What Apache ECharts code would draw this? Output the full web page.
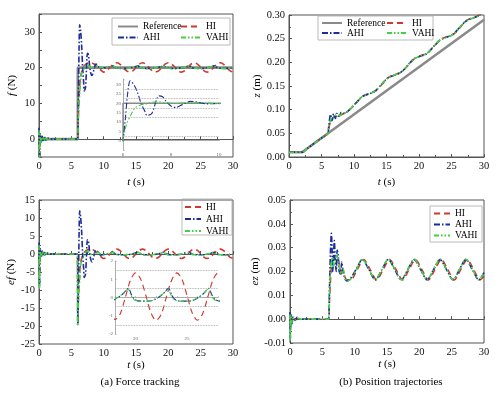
<!DOCTYPE html>
<html lang="en">
<head>
<meta charset="UTF-8">
<title>Force tracking / position trajectories</title>
<script src="https://cdn.jsdelivr.net/npm/echarts@6/dist/echarts.min.js"></script>
<style>
  * { margin: 0; padding: 0; }
  body { background: #fff; }
  #chart { width: 500px; height: 399px; }
</style>
</head>
<body>
<div id="chart"></div>
<script>
// ---- data: [t (s), value] ----
const fRef = [[0, 0], [6, 0], [6, 20], [30, 20]];
const zRef = [[0, 0.01], [2, 0.01], [30, 0.29]];

// force f (N)
const fHI = [[0,1.5],[0.08,-6],[0.2,1],[0.4,-0.5],[0.6,0.4],[0.9,-0.2],[1.2,0.2],[1.6,0],[5.95,0],[6.05,5],[6.2,12],[6.4,17],[6.7,19.5],[7,20.5],[7.5,21.2],[8,21.4],[8.5,21],[9,20.3],[9.5,19.4],[10,18.75],[10.5,19.15],[11,20.05],[11.5,20.95],[12,21.35],[12.5,21],[13,20.1],[13.5,19.15],[14,18.75],[14.5,19.1],[15,20.05],[15.5,20.95],[16,21.35],[16.5,21],[17,20.1],[17.5,19.15],[18,18.8],[18.5,19.1],[19,20],[19.5,20.95],[20,21.35],[20.5,21],[21,20.1],[21.5,19.15],[22,18.75],[22.5,19.1],[23,20.05],[23.5,20.95],[24,21.35],[24.5,21],[25,20.1],[25.5,19.15],[26,18.75],[26.5,19.1],[27,20],[27.5,20.95],[28,21.35],[28.5,21],[29,20.1],[29.5,19.15],[30,18.8]];
const fAHI = [[0,3.2],[0.08,-9],[0.2,1.5],[0.35,-1],[0.5,0.8],[0.7,-0.6],[0.9,0.5],[1.1,-0.3],[1.4,0.3],[1.7,0],[5.95,0],[6,0.5],[6.1,12],[6.2,26],[6.3,32],[6.45,30],[6.6,26],[6.75,20],[6.9,16],[7,13.5],[7.2,14.5],[7.5,24],[7.65,23.5],[7.8,21],[8,18.5],[8.2,17.8],[8.5,19.5],[8.8,21],[9.1,20.6],[9.5,19.7],[10,19.9],[10.4,20],[10.9,20.22],[11.4,20.5],[11.7,20.15],[12,19.9],[12.6,19.8],[13.3,19.8],[13.8,19.85],[14.3,20],[14.8,20.22],[15.3,20.5],[15.6,20.15],[15.9,19.9],[16.5,19.8],[17.2,19.8],[17.8,19.85],[18.3,20],[18.8,20.22],[19.3,20.5],[19.6,20.15],[19.9,19.9],[20.5,19.8],[21.2,19.8],[21.7,19.85],[22.2,20],[22.7,20.22],[23.2,20.5],[23.5,20.15],[23.8,19.9],[24.4,19.8],[25.1,19.8],[25.6,19.85],[26.1,20],[26.6,20.22],[27.1,20.5],[27.4,20.15],[27.7,19.9],[28.3,19.8],[29,19.8],[29.5,19.85],[30,20]];
const fVAHI = [[0,2.5],[0.08,-9.5],[0.2,1.2],[0.35,-0.8],[0.55,0.6],[0.75,-0.4],[1,0.3],[1.3,-0.2],[1.6,0.1],[2,0],[5.95,0],[6.05,4],[6.15,9],[6.3,13],[6.5,17.5],[6.7,19],[6.9,19.5],[7.2,20.5],[7.5,20.8],[7.8,20.3],[8.2,19.8],[8.6,20.3],[9,20.5],[9.5,20.1],[10,19.8],[10.45,20],[10.95,20.2],[11.45,20.45],[11.75,20.12],[12.05,19.88],[12.65,19.8],[13.35,19.8],[13.85,19.85],[14.35,20],[14.85,20.2],[15.35,20.45],[15.65,20.12],[15.95,19.88],[16.55,19.8],[17.25,19.8],[17.75,19.85],[18.25,20],[18.75,20.2],[19.25,20.45],[19.55,20.12],[19.85,19.88],[20.45,19.8],[21.15,19.8],[21.65,19.85],[22.15,20],[22.65,20.2],[23.15,20.45],[23.45,20.12],[23.75,19.88],[24.35,19.8],[25.05,19.8],[25.55,19.85],[26.05,20],[26.55,20.2],[27.05,20.45],[27.35,20.12],[27.65,19.88],[28.25,19.8],[28.95,19.8],[29.45,19.85],[30,20.02]];

// force error ef (N)
const efHI = [[0,1.5],[0.08,-6],[0.2,1],[0.4,-0.5],[0.6,0.4],[0.9,-0.2],[1.2,0.2],[1.6,0],[5.95,0],[6,-19.5],[6.05,-15],[6.2,-8],[6.4,-3],[6.7,-0.5],[7,0.5],[7.5,1.2],[8,1.4],[8.5,1],[9,0.3],[9.5,-0.6],[10,-1.25],[10.5,-0.85],[11,0.05],[11.5,0.95],[12,1.35],[12.5,1],[13,0.1],[13.5,-0.85],[14,-1.25],[14.5,-0.9],[15,0.05],[15.5,0.95],[16,1.35],[16.5,1],[17,0.1],[17.5,-0.85],[18,-1.2],[18.5,-0.9],[19,0],[19.5,0.95],[20,1.35],[20.5,1],[21,0.1],[21.5,-0.85],[22,-1.25],[22.5,-0.9],[23,0.05],[23.5,0.95],[24,1.35],[24.5,1],[25,0.1],[25.5,-0.85],[26,-1.25],[26.5,-0.9],[27,0],[27.5,0.95],[28,1.35],[28.5,1],[29,0.1],[29.5,-0.85],[30,-1.2]];
const efAHI = [[0,3.2],[0.08,-9],[0.2,1.5],[0.35,-1],[0.5,0.8],[0.7,-0.6],[0.9,0.5],[1.1,-0.3],[1.4,0.3],[1.7,0],[5.95,0],[6,-19.5],[6.1,-8],[6.2,6],[6.3,12],[6.45,10],[6.6,6],[6.75,0],[6.9,-4],[7,-6.5],[7.2,-5.5],[7.5,4],[7.65,3.5],[7.8,1],[8,-1.5],[8.2,-2.2],[8.5,-0.5],[8.8,1],[9.1,0.6],[9.5,-0.3],[10,-0.1],[10.4,0],[10.9,0.22],[11.4,0.5],[11.7,0.15],[12,-0.1],[12.6,-0.2],[13.3,-0.2],[13.8,-0.15],[14.3,0],[14.8,0.22],[15.3,0.5],[15.6,0.15],[15.9,-0.1],[16.5,-0.2],[17.2,-0.2],[17.8,-0.15],[18.3,0],[18.8,0.22],[19.3,0.5],[19.6,0.15],[19.9,-0.1],[20.5,-0.2],[21.2,-0.2],[21.7,-0.15],[22.2,0],[22.7,0.22],[23.2,0.5],[23.5,0.15],[23.8,-0.1],[24.4,-0.2],[25.1,-0.2],[25.6,-0.15],[26.1,0],[26.6,0.22],[27.1,0.5],[27.4,0.15],[27.7,-0.1],[28.3,-0.2],[29,-0.2],[29.5,-0.15],[30,0]];
const efVAHI = [[0,2.5],[0.08,-9.5],[0.2,1.2],[0.35,-0.8],[0.55,0.6],[0.75,-0.4],[1,0.3],[1.3,-0.2],[1.6,0.1],[2,0],[5.9,0],[5.97,-20],[6.05,-16],[6.15,-11],[6.3,-7],[6.5,-2.5],[6.7,-1],[6.9,-0.5],[7.2,0.5],[7.5,0.8],[7.8,0.3],[8.2,-0.2],[8.6,0.3],[9,0.5],[9.5,0.1],[10,-0.2],[10.45,0],[10.95,0.2],[11.45,0.45],[11.75,0.12],[12.05,-0.12],[12.65,-0.2],[13.35,-0.2],[13.85,-0.15],[14.35,0],[14.85,0.2],[15.35,0.45],[15.65,0.12],[15.95,-0.12],[16.55,-0.2],[17.25,-0.2],[17.75,-0.15],[18.25,0],[18.75,0.2],[19.25,0.45],[19.55,0.12],[19.85,-0.12],[20.45,-0.2],[21.15,-0.2],[21.65,-0.15],[22.15,0],[22.65,0.2],[23.15,0.45],[23.45,0.12],[23.75,-0.12],[24.35,-0.2],[25.05,-0.2],[25.55,-0.15],[26.05,0],[26.55,0.2],[27.05,0.45],[27.35,0.12],[27.65,-0.12],[28.25,-0.2],[28.95,-0.2],[29.45,-0.15],[30,0.02]];

// position z (m)
const zHI = [[0,0.01],[2,0.01],[3,0.02],[4,0.03],[5,0.04],[5.95,0.0495],[6.1,0.059],[6.3,0.071],[6.5,0.079],[6.8,0.083],[7.1,0.085],[7.4,0.089],[7.7,0.089],[8,0.089],[8.4,0.092],[8.8,0.0945],[9.4,0.1005],[10.4,0.1148],[11.4,0.129],[12.4,0.1348],[13.4,0.1405],[14.4,0.1548],[15.4,0.169],[16.4,0.1748],[17.4,0.1805],[18.4,0.1948],[19.4,0.209],[20.4,0.2148],[21.4,0.2205],[22.4,0.2348],[23.4,0.249],[24.4,0.2548],[25.4,0.2605],[26.4,0.2748],[27.4,0.289],[28.4,0.2948],[29.4,0.3005],[30,0.308]];
const zAHI = [[0,0.01],[2,0.01],[3,0.02],[4,0.03],[5,0.04],[5.95,0.0495],[6.1,0.063],[6.25,0.0805],[6.4,0.09],[6.5,0.085],[6.6,0.076],[6.7,0.081],[6.85,0.0915],[7,0.085],[7.15,0.0815],[7.3,0.092],[7.45,0.0915],[7.6,0.086],[7.8,0.087],[8,0.094],[8.2,0.092],[8.5,0.092],[8.8,0.094],[9.2,0.0985],[10.2,0.1128],[11.2,0.127],[12.2,0.1328],[13.2,0.1385],[14.2,0.1528],[15.2,0.167],[16.2,0.1728],[17.2,0.1785],[18.2,0.1928],[19.2,0.207],[20.2,0.2128],[21.2,0.2185],[22.2,0.2328],[23.2,0.247],[24.2,0.2528],[25.2,0.2585],[26.2,0.2728],[27.2,0.287],[28.2,0.2928],[29.2,0.2985],[30,0.3095]];
const zVAHI = [[0,0.01],[2,0.01],[3,0.02],[4,0.03],[5,0.04],[5.95,0.0495],[6.1,0.061],[6.25,0.0725],[6.4,0.078],[6.6,0.082],[6.8,0.08],[7,0.085],[7.3,0.09],[7.6,0.088],[7.9,0.088],[8.2,0.093],[8.5,0.093],[8.8,0.094],[9.3,0.0995],[10.25,0.1133],[11.2,0.1272],[12.2,0.133],[13.2,0.1385],[14.2,0.1528],[15.2,0.1672],[16.2,0.173],[17.2,0.1785],[18.2,0.1928],[19.2,0.2072],[20.2,0.213],[21.2,0.2185],[22.2,0.2328],[23.2,0.2472],[24.2,0.253],[25.2,0.2585],[26.2,0.2728],[27.2,0.2872],[28.2,0.293],[29.2,0.2985],[30,0.3095]];

// position error ez (m)
const ezHI = [[0,0.001],[0.05,-0.004],[0.2,0.001],[0.5,-0.0005],[0.9,0.0003],[1.5,0],[5.95,0],[6.1,0.008],[6.3,0.018],[6.5,0.024],[6.8,0.025],[7.1,0.024],[7.4,0.025],[7.7,0.022],[8,0.019],[8.4,0.018],[8.8,0.0165],[9.4,0.0165],[10.4,0.0208],[11.4,0.025],[12.4,0.0208],[13.4,0.0165],[14.4,0.0208],[15.4,0.025],[16.4,0.0208],[17.4,0.0165],[18.4,0.0208],[19.4,0.025],[20.4,0.0208],[21.4,0.0165],[22.4,0.0208],[23.4,0.025],[24.4,0.0208],[25.4,0.0165],[26.4,0.0208],[27.4,0.025],[28.4,0.0208],[29.4,0.0165],[30,0.018]];
const ezAHI = [[0,0.003],[0.05,-0.008],[0.15,0.002],[0.3,-0.002],[0.5,0.001],[0.8,-0.0005],[1.1,0.0008],[1.5,0],[5.95,0],[6.1,0.012],[6.25,0.028],[6.4,0.036],[6.5,0.03],[6.6,0.02],[6.7,0.024],[6.85,0.033],[7,0.025],[7.15,0.02],[7.3,0.029],[7.45,0.027],[7.6,0.02],[7.8,0.019],[8,0.024],[8.2,0.02],[8.5,0.017],[8.8,0.016],[9.2,0.0165],[10.2,0.0208],[11.2,0.025],[12.2,0.0208],[13.2,0.0165],[14.2,0.0208],[15.2,0.025],[16.2,0.0208],[17.2,0.0165],[18.2,0.0208],[19.2,0.025],[20.2,0.0208],[21.2,0.0165],[22.2,0.0208],[23.2,0.025],[24.2,0.0208],[25.2,0.0165],[26.2,0.0208],[27.2,0.025],[28.2,0.0208],[29.2,0.0165],[30,0.0195]];
const ezVAHI = [[0,0.002],[0.05,-0.009],[0.15,0.0015],[0.3,-0.0015],[0.6,0.0008],[0.9,-0.0003],[1.2,0.0005],[1.6,0],[5.95,0],[6.1,0.01],[6.25,0.02],[6.4,0.024],[6.6,0.026],[6.8,0.022],[7,0.025],[7.3,0.027],[7.6,0.022],[7.9,0.019],[8.2,0.021],[8.5,0.018],[8.8,0.016],[9.3,0.0165],[10.25,0.0208],[11.2,0.0252],[12.2,0.021],[13.2,0.0165],[14.2,0.0208],[15.2,0.0252],[16.2,0.021],[17.2,0.0165],[18.2,0.0208],[19.2,0.0252],[20.2,0.021],[21.2,0.0165],[22.2,0.0208],[23.2,0.0252],[24.2,0.021],[25.2,0.0165],[26.2,0.0208],[27.2,0.0252],[28.2,0.021],[29.2,0.0165],[30,0.0195]];

// tick labels and dotted guide levels of the two insets
const fTickLabels = [0, 10, 20, 30];
const insetFxLabels = [6, 8, 10];
const insetFyLabels = [0, 5, 10, 15, 20, 25, 30];
const insetEfxLabels = [20, 25];
const insetEfyLabels = [-2, -1, 0, 1, 2];
const insetFGuides = [2.5, 12.5, 17.5, 22.5, 27.5];
const insetEfGuides = [-1.5, -0.5, 0.5, 1.5];

// ---- styling ----
const serif = "'Liberation Serif', 'Times New Roman', serif";
const AX = '#555';
const styles = {
  Reference: { color: '#8a8a8a', width: 2.6, type: 'solid' },
  HI:   { color: '#d2372f', width: 1.6, type: [6, 4] },
  AHI:  { color: '#1d2c9c', width: 1.6, type: [6, 2, 1.5, 2] },
  VAHI: { color: '#43d043', width: 1.6, type: [5, 2, 1.5, 2, 1.5, 2] }
};

function line(name, data, grid, inset) {
  const s = styles[name];
  return {
    name: name, type: 'line', data: data,
    xAxisIndex: grid, yAxisIndex: grid,
    symbol: 'none',
    smooth: name === 'Reference' ? false : 0.3,
    lineStyle: { color: s.color, width: inset ? s.width * 0.7 : s.width, type: s.type },
    itemStyle: { color: s.color },
    silent: true
  };
}

const nameStyle = {
  fontFamily: serif, fontSize: 11, color: '#000',
  rich: { i: { fontFamily: serif, fontSize: 11, fontStyle: 'italic', color: '#000' } }
};

function mainX(grid, gap) {
  return {
    type: 'value', gridIndex: grid, min: 0, max: 30, interval: 5,
    name: '{i|t} (s)', nameLocation: 'middle', nameGap: gap, nameTextStyle: nameStyle,
    axisLine: { lineStyle: { color: AX, width: 1 } },
    axisTick: { inside: true, length: 3, lineStyle: { color: AX } },
    minorTick: { show: true, splitNumber: 2, length: 2, lineStyle: { color: AX } },
    axisLabel: { fontFamily: serif, fontSize: 10.5, color: '#111', margin: 4 },
    splitLine: { show: false }
  };
}

function mainY(grid, min, max, interval, name, gap, opts) {
  const o = opts || {};
  return {
    type: 'value', gridIndex: grid, min: min, max: max, interval: interval,
    name: name, nameLocation: 'middle', nameGap: gap, nameTextStyle: nameStyle,
    axisLine: { show: true, lineStyle: { color: AX, width: 1 } },
    axisTick: { show: true, inside: true, length: 3, lineStyle: { color: AX } },
    minorTick: { show: o.minor !== false, splitNumber: 2, length: 2, lineStyle: { color: AX } },
    axisLabel: Object.assign({ fontFamily: serif, fontSize: 10.5, color: '#111', margin: 4 }, o.label || {}),
    splitLine: { show: false }
  };
}

const insetLabel = { fontFamily: serif, fontSize: 5, color: '#666', margin: 2 };
function insetAxis(grid, min, max, interval, labels) {
  return {
    type: 'value', gridIndex: grid, min: min, max: max, interval: interval,
    axisLine: { show: true, lineStyle: { color: '#999', width: 0.8 } },
    axisTick: { show: true, inside: true, length: 1.5, lineStyle: { color: '#999', width: 0.6 } },
    axisLabel: Object.assign({ customValues: labels }, insetLabel),
    splitLine: { show: false }
  };
}

function guides(values) {
  return {
    silent: true, symbol: 'none', label: { show: false },
    lineStyle: { type: 'dotted', color: '#9a9a9a', width: 0.8 },
    data: values.map(v => ({ yAxis: v }))
  };
}

function legend(left, top, names, extra) {
  return Object.assign({
    left: left, top: top, data: names, orient: 'vertical',
    selectedMode: false, padding: 0,
    itemWidth: 20, itemHeight: 8, itemGap: 0,
    itemStyle: { opacity: 0 },
    textStyle: { fontFamily: serif, fontSize: 9.5, color: '#000', lineHeight: 11 }
  }, extra || {});
}

function box(x, y, w, h) {
  return { type: 'rect', shape: { x: x, y: y, width: w, height: h },
    style: { fill: 'none', stroke: '#a8a8a8', lineWidth: 0.8 }, silent: true };
}

const fInsetRef = line('Reference', fRef, 4, true);
fInsetRef.lineStyle.width = 1.4;
fInsetRef.markLine = guides(insetFGuides);
const efInsetHI = line('HI', efHI, 5, true);
efInsetHI.markLine = guides(insetEfGuides);

const option = {
  animation: false,
  backgroundColor: '#fff',
  grid: [
    { left: 39, top: 14, width: 194, height: 143, show: true, borderColor: AX, borderWidth: 1 },
    { left: 289, top: 15, width: 195, height: 142, show: true, borderColor: AX, borderWidth: 1 },
    { left: 39, top: 200, width: 194, height: 144, show: true, borderColor: AX, borderWidth: 1 },
    { left: 290, top: 200, width: 194, height: 143, show: true, borderColor: AX, borderWidth: 1 },
    { left: 123, top: 79, width: 96, height: 71 },
    { left: 115, top: 261, width: 103, height: 73 }
  ],
  xAxis: [
    mainX(0, 20), mainX(1, 20), mainX(2, 12), mainX(3, 13),
    insetAxis(4, 6, 10, 1, insetFxLabels),
    insetAxis(5, 18, 28, 1, insetEfxLabels)
  ],
  yAxis: [
    mainY(0, -5, 35, 5, '{i|f} (N)', 21, { minor: false, label: { customValues: fTickLabels } }),
    mainY(1, 0, 0.3, 0.05, '{i|z} (m)', 24, { label: { formatter: v => v.toFixed(2) } }),
    mainY(2, -25, 15, 5, '{i|ef} (N)', 21),
    mainY(3, -0.01, 0.05, 0.01, '{i|ez} (m)', 25, { label: { formatter: v => v.toFixed(2) } }),
    insetAxis(4, -5, 33, 5, insetFyLabels),
    insetAxis(5, -2, 2, 1, insetEfyLabels)
  ],
  legend: [
    legend(117, 21, ['Reference', 'AHI']),
    legend(180, 21, ['HI', 'VAHI']),
    legend(321, 18, ['Reference', 'AHI'], { textStyle: { fontFamily: serif, fontSize: 9.5, color: '#000', lineHeight: 9.5 } }),
    legend(386, 18, ['HI', 'VAHI'], { textStyle: { fontFamily: serif, fontSize: 9.5, color: '#000', lineHeight: 9.5 } }),
    legend(184, 201, ['HI', 'AHI', 'VAHI'], { itemWidth: 16, lineHeight: 12, textStyle: { fontFamily: serif, fontSize: 9.5, color: '#000', lineHeight: 12 } }),
    legend(433, 208, ['HI', 'AHI', 'VAHI'], { itemWidth: 16, textStyle: { fontFamily: serif, fontSize: 9.5, color: '#000', lineHeight: 11 } })
  ],
  graphic: [
    box(112, 18, 118, 27),
    box(318, 16, 115, 24),
    box(182, 199, 50, 36),
    box(430, 206, 52, 36),
    { type: 'text', x: 140, y: 377, style: { text: '(a) Force tracking', font: "11px 'Liberation Serif'", fill: '#000', textAlign: 'center' } },
    { type: 'text', x: 391, y: 377, style: { text: '(b) Position trajectories', font: "11px 'Liberation Serif'", fill: '#000', textAlign: 'center' } }
  ],
  series: [
    line('Reference', fRef, 0), line('HI', fHI, 0), line('AHI', fAHI, 0), line('VAHI', fVAHI, 0),
    line('Reference', zRef, 1), line('HI', zHI, 1), line('AHI', zAHI, 1), line('VAHI', zVAHI, 1),
    line('HI', efHI, 2), line('AHI', efAHI, 2), line('VAHI', efVAHI, 2),
    line('HI', ezHI, 3), line('AHI', ezAHI, 3), line('VAHI', ezVAHI, 3),
    fInsetRef, line('AHI', fAHI, 4, true), line('VAHI', fVAHI, 4, true),
    efInsetHI, line('AHI', efAHI, 5, true), line('VAHI', efVAHI, 5, true)
  ]
};

const chart = echarts.init(document.getElementById('chart'), null, { renderer: 'canvas' });
chart.setOption(option);
</script>
</body>
</html>
